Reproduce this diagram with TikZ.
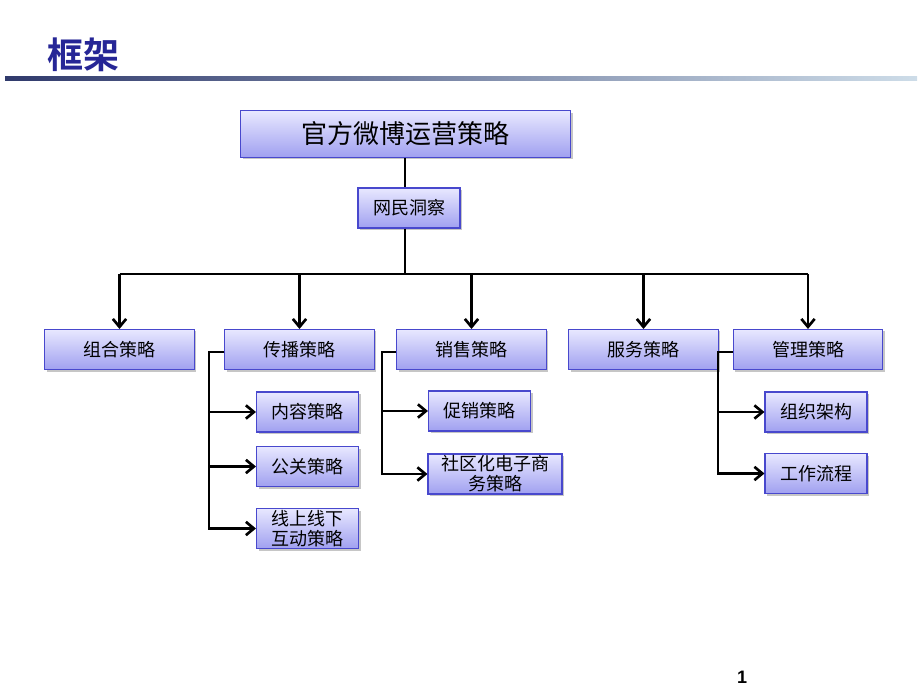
\documentclass[tikz,border=0pt]{standalone}
\usepackage{fontspec}
\newfontfamily\cjk{Noto Sans CJK SC}
\newfontfamily\cjkbold{Noto Sans CJK SC Bold}
\newfontfamily\numfont{Liberation Sans}
\usetikzlibrary{arrows.meta,shadows}

\definecolor{boxline}{RGB}{72,72,205}
\definecolor{boxtop}{RGB}{232,232,255}
\definecolor{boxbottom}{RGB}{160,160,240}
\definecolor{titleblue}{RGB}{38,38,150}
\definecolor{bardark}{RGB}{48,58,108}
\definecolor{barlight}{RGB}{205,220,232}

\tikzset{
	box/.style={draw=boxline, line width=0.8pt, top color=boxtop, bottom color=boxbottom,
		inner sep=0pt, minimum height=30pt, align=center,
		font=\cjk\fontsize{13.5pt}{15pt}\selectfont,
		drop shadow={opacity=0.45, shadow xshift=1.5pt, shadow yshift=-1.5pt}},
	bigbox/.style={box, minimum width=112pt},
	smallbox/.style={box, minimum width=76.5pt},
	link/.style={line width=2.1pt},
	arr/.style={link, -{Straight Barb[length=6pt, width=10pt, line width=2pt]}}
}
\tikzset{every picture/.style={line width=0.75pt}}

\begin{document}
\begin{tikzpicture}[x=0.75pt,y=0.75pt,yscale=-1,xscale=1]
	\useasboundingbox (0,0) rectangle (920,691);

	% Title
	\node[text=titleblue, font=\cjkbold\fontsize{27pt}{30pt}\selectfont] (title) at (83,55) {框架};
	\shade[left color=bardark, right color=barlight] (5,76.5) rectangle (917,81);

	% Top levels
	\node[box, minimum width=247.5pt, minimum height=35pt, font=\cjk\fontsize{19.5pt}{22pt}\selectfont] (top) at (405.5,134) {官方微博运营策略};
	\node[smallbox] (insight) at (409,208) {网民洞察};

	% Strategy row
	\node[bigbox] (zuhe) at (119.5,349.5) {组合策略};
	\node[bigbox] (chuanbo) at (299.5,349.5) {传播策略};
	\node[bigbox] (xiaoshou) at (471.5,349.5) {销售策略};
	\node[bigbox] (fuwu) at (643.5,349.5) {服务策略};
	\node[bigbox] (guanli) at (808,349.5) {管理策略};

	% Sub strategies
	\node[smallbox] (neirong) at (307.5,412) {内容策略};
	\node[smallbox] (gongguan) at (307.5,466.5) {公关策略};
	\node[smallbox] (xianshang) at (307.5,528.5) {线上线下\\互动策略};
	\node[smallbox] (cuxiao) at (479.5,411) {促销策略};
	\node[box, minimum width=100.5pt] (shequ) at (495,474) {社区化电子商\\务策略};
	\node[smallbox] (zuzhi) at (816,412) {组织架构};
	\node[smallbox] (gongzuo) at (816,473.5) {工作流程};

	% Connectors
	\coordinate (bus) at (405,274);
	\draw[link] (top.south -| bus) -- (insight.north -| bus);
	\draw[link] (insight.south -| bus) -- (bus);
	\draw[link] (bus -| zuhe.north) -- (bus -| guanli.north);
	\foreach \n in {zuhe,chuanbo,xiaoshou,fuwu,guanli}
		\draw[arr] (bus -| \n.north) -- (\n.north);

	\coordinate (cbrail) at (209,352);
	\draw[arr] (chuanbo.west |- cbrail) -- (cbrail) |- (xianshang.west);
	\draw[arr] (cbrail |- neirong.west) -- (neirong.west);
	\draw[arr] (cbrail |- gongguan.west) -- (gongguan.west);

	\coordinate (xsrail) at (382,352);
	\draw[arr] (xiaoshou.west |- xsrail) -- (xsrail) |- (shequ.west);
	\draw[arr] (xsrail |- cuxiao.west) -- (cuxiao.west);

	\coordinate (glrail) at (718,352);
	\draw[arr] (guanli.west |- glrail) -- (glrail) |- (gongzuo.west);
	\draw[arr] (glrail |- zuzhi.west) -- (zuzhi.west);

	% Page number
	\node[font=\numfont\bfseries\fontsize{13.5pt}{15pt}\selectfont] (page) at (742,677) {1};
\end{tikzpicture}
\end{document}
